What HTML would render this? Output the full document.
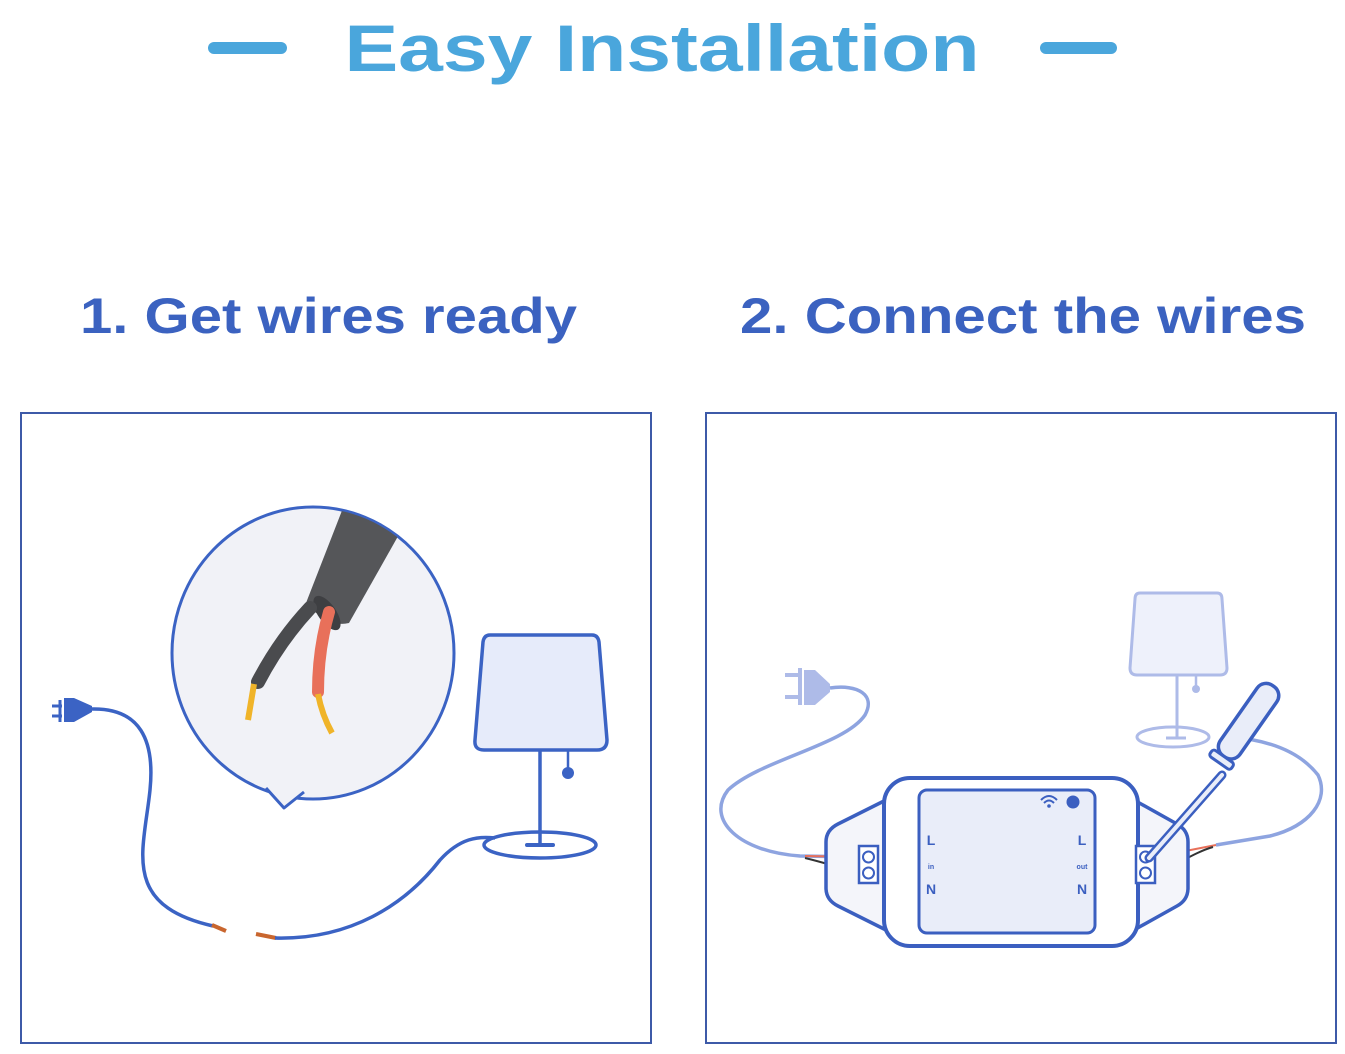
<!DOCTYPE html>
<html><head><meta charset="utf-8"><style>
html,body{margin:0;padding:0;background:#fff;}
svg{display:block;}
</style></head><body>
<svg width="1345" height="1054" viewBox="0 0 1345 1054" xmlns="http://www.w3.org/2000/svg">
<rect width="1345" height="1054" fill="#fff"/>
<rect x="208" y="42" width="79" height="12" rx="6" fill="#4aa6dc"/>
<rect x="1040" y="42" width="77" height="12" rx="6" fill="#4aa6dc"/>
<text x="662" y="71" text-anchor="middle" font-family="Liberation Sans, sans-serif" font-weight="bold" font-size="66" fill="#4aa6dc" textLength="635" lengthAdjust="spacingAndGlyphs">Easy Installation</text>
<text x="80" y="333" font-family="Liberation Sans, sans-serif" font-weight="bold" font-size="50" fill="#3b62c0" textLength="497" lengthAdjust="spacingAndGlyphs">1. Get wires ready</text>
<text x="740" y="333" font-family="Liberation Sans, sans-serif" font-weight="bold" font-size="50" fill="#3b62c0" textLength="566" lengthAdjust="spacingAndGlyphs">2. Connect the wires</text>
<rect x="21" y="413" width="630" height="630" fill="none" stroke="#3d5aa8" stroke-width="2"/>
<rect x="706" y="413" width="630" height="630" fill="none" stroke="#3d5aa8" stroke-width="2"/>

<!-- LEFT PANEL -->
<ellipse cx="313" cy="653" rx="141" ry="146" fill="#f1f2f7" stroke="#3b63c4" stroke-width="3"/>
<path d="M266,788 L284,808 L304,792" fill="#f1f2f7" stroke="#3b63c4" stroke-width="3" stroke-linejoin="round"/>
<path d="M270,786 L284,803 L301,789 Z" fill="#f1f2f7"/>
<clipPath id="bub"><ellipse cx="313" cy="653" rx="140" ry="145"/></clipPath>
<g clip-path="url(#bub)">
<path d="M350,490 L410,515 L349,623 Q328,628 306,603 Z" fill="#555659"/>
</g>
<ellipse cx="327" cy="613" rx="20" ry="9" transform="rotate(55 327 613)" fill="#3e3f42"/>
<path d="M310,608 Q280,640 258,682" stroke="#4a4b4e" stroke-width="14" fill="none" stroke-linecap="round"/>
<path d="M254,684 L248,720" stroke="#f0b429" stroke-width="6" fill="none"/>
<path d="M329,612 Q318,650 318,692" stroke="#e8705a" stroke-width="12" fill="none" stroke-linecap="round"/>
<path d="M318,694 Q322,715 332,733" stroke="#f0b429" stroke-width="6" fill="none"/>
<path d="M60,700 L60,722 M52,706 L62,706 M52,716 L62,716" stroke="#3b63c4" stroke-width="3" fill="none"/>
<path d="M64,698 L74,698 L92,706 L92,712 L74,722 L64,722 Z" fill="#3b63c4"/>
<path d="M92,709 C140,708 155,740 150,790 C144,850 120,905 213,926" stroke="#3b63c4" stroke-width="3.5" fill="none"/>
<path d="M212,925 L226,931" stroke="#c9662e" stroke-width="4"/>
<path d="M256,934 L276,938" stroke="#c9662e" stroke-width="4"/>
<path d="M275,938 C350,940 405,905 440,860 C460,838 478,836 495,838" stroke="#3b63c4" stroke-width="3.5" fill="none"/>
<path d="M490,635 L592,635 Q598,635 599,642 L607,740 Q607,750 597,750 L484,750 Q474,750 475,740 L483,642 Q484,635 490,635 Z" fill="#e6ebfa" stroke="#3b63c4" stroke-width="3.5" stroke-linejoin="round"/>
<line x1="540" y1="750" x2="540" y2="845" stroke="#3b63c4" stroke-width="3.5"/>
<line x1="568" y1="750" x2="568" y2="770" stroke="#3b63c4" stroke-width="2.5"/>
<circle cx="568" cy="773" r="6" fill="#3b63c4"/>
<ellipse cx="540" cy="845" rx="56" ry="13" fill="none" stroke="#3b63c4" stroke-width="3.5"/>
<line x1="527" y1="845" x2="553" y2="845" stroke="#3b63c4" stroke-width="4" stroke-linecap="round"/>

<!-- RIGHT PANEL -->
<path d="M1140,593 L1217,593 Q1222,593 1222,599 L1227,668 Q1227,675 1220,675 L1137,675 Q1130,675 1130,668 L1135,599 Q1135,593 1140,593 Z" fill="#eef1fb" stroke="#aebbe8" stroke-width="3"/>
<line x1="1177" y1="675" x2="1177" y2="738" stroke="#aebbe8" stroke-width="3"/>
<line x1="1196" y1="675" x2="1196" y2="686" stroke="#aebbe8" stroke-width="2.5"/>
<circle cx="1196" cy="689" r="4" fill="#aebbe8"/>
<ellipse cx="1173" cy="737" rx="36" ry="10" fill="none" stroke="#aebbe8" stroke-width="3"/>
<line x1="1166" y1="738" x2="1186" y2="738" stroke="#aebbe8" stroke-width="3"/>
<path d="M785,675 L800,675 M785,697 L800,697 M800,668 L800,705" stroke="#aebbe8" stroke-width="4" fill="none"/>
<path d="M804,670 L815,670 L830,684 L830,692 L815,705 L804,705 Z" fill="#aebbe8"/>
<path d="M830,688 C858,684 876,695 865,715 C845,745 760,760 728,790 C705,820 740,852 800,856 L861,857" stroke="#8ea4e0" stroke-width="3.5" fill="none"/>
<path d="M805,856 L861,857" stroke="#e8705a" stroke-width="2"/>
<path d="M805,858 C830,864 845,870 861,872" stroke="#333" stroke-width="2" fill="none"/>
<path d="M1230,737 C1270,740 1300,752 1318,775 C1330,800 1310,826 1270,836 L1216,845" stroke="#8ea4e0" stroke-width="3.5" fill="none"/>
<path d="M1155,857 L1216,845" stroke="#e8705a" stroke-width="2"/>
<path d="M1155,874 C1175,866 1195,852 1213,847" stroke="#333" stroke-width="2" fill="none"/>
<path d="M886,800 L838,824 Q826,830 826,842 L826,888 Q826,900 838,906 L886,930 Z" fill="#f4f5fa" stroke="#3b5fc0" stroke-width="3.5" stroke-linejoin="round"/>
<path d="M1134,800 L1177,824 Q1188,830 1188,842 L1188,888 Q1188,900 1177,906 L1134,930 Z" fill="#f4f5fa" stroke="#3b5fc0" stroke-width="3.5" stroke-linejoin="round"/>
<rect x="884" y="778" width="254" height="168" rx="26" fill="#fff" stroke="#3b5fc0" stroke-width="4"/>
<rect x="919" y="790" width="176" height="143" rx="8" fill="#e9edf9" stroke="#3b5fc0" stroke-width="3"/>
<rect x="859" y="846" width="19" height="37" fill="#fff" stroke="#3b5fc0" stroke-width="2.5"/>
<circle cx="868.5" cy="857" r="5.5" fill="none" stroke="#3b5fc0" stroke-width="2"/>
<circle cx="868.5" cy="873" r="5.5" fill="none" stroke="#3b5fc0" stroke-width="2"/>
<rect x="1136" y="846" width="19" height="37" fill="#fff" stroke="#3b5fc0" stroke-width="2.5"/>
<circle cx="1145.5" cy="857" r="5.5" fill="none" stroke="#3b5fc0" stroke-width="2"/>
<circle cx="1145.5" cy="873" r="5.5" fill="none" stroke="#3b5fc0" stroke-width="2"/>
<g font-family="Liberation Sans, sans-serif" font-weight="bold" fill="#3b5fc0">
<text x="931" y="845" font-size="14" text-anchor="middle">L</text>
<text x="931" y="869" font-size="7" text-anchor="middle">in</text>
<text x="931" y="894" font-size="14" text-anchor="middle">N</text>
<text x="1082" y="845" font-size="14" text-anchor="middle">L</text>
<text x="1082" y="869" font-size="7" text-anchor="middle">out</text>
<text x="1082" y="894" font-size="14" text-anchor="middle">N</text>
</g>
<path d="M1041,800 Q1049,792 1057,800 M1044,803 Q1049,798 1054,803" stroke="#3b5fc0" stroke-width="2" fill="none"/>
<circle cx="1049" cy="806" r="1.8" fill="#3b5fc0"/>
<circle cx="1073" cy="802" r="6.5" fill="#3b5fc0"/>
<line x1="1222" y1="775" x2="1149" y2="858" stroke="#3b5fc0" stroke-width="9" stroke-linecap="round"/>
<line x1="1222" y1="775" x2="1149" y2="858" stroke="#e9edf9" stroke-width="4" stroke-linecap="round"/>
<g transform="translate(1248,722) rotate(35)">
<rect x="-12" y="-44" width="24" height="86" rx="11" fill="#e9edf9" stroke="#3b5fc0" stroke-width="3.5"/>
<rect x="-13" y="42" width="26" height="8" rx="3" fill="#e9edf9" stroke="#3b5fc0" stroke-width="3"/>
</g>
</svg>
</body></html>
